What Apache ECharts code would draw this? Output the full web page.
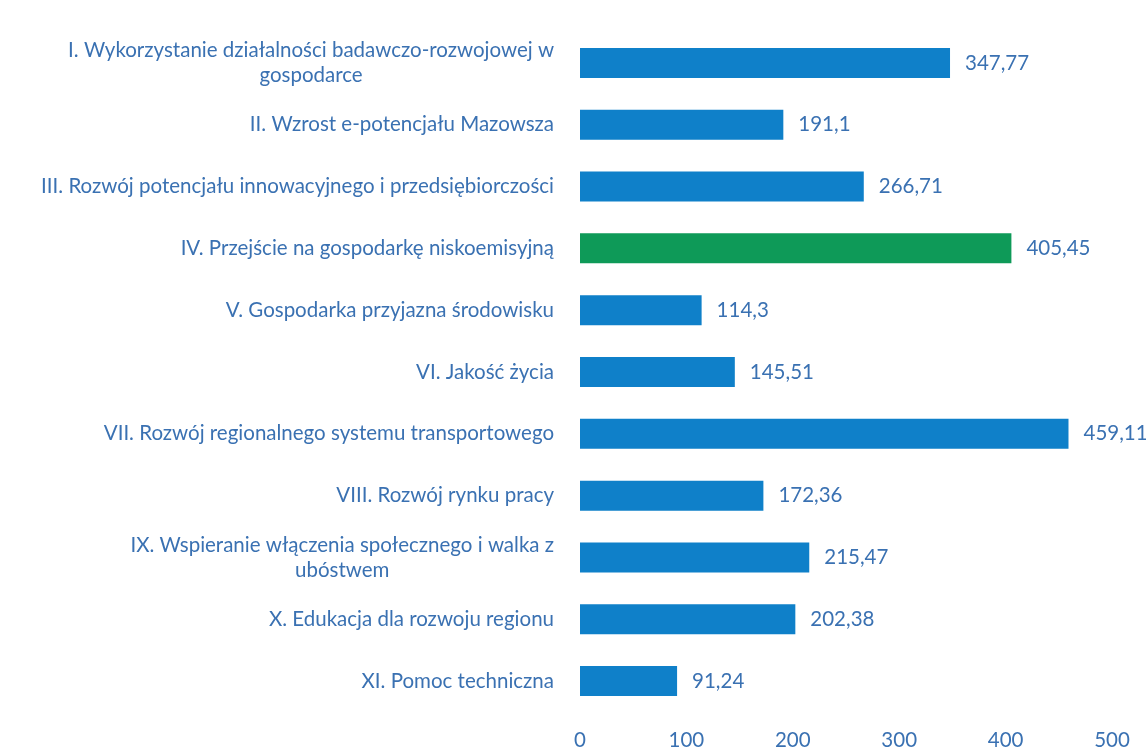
<!DOCTYPE html>
<html>
<head>
<meta charset="utf-8">
<script src="https://cdn.jsdelivr.net/npm/echarts@6/dist/echarts.min.js"></script>
<style>
  html, body { margin: 0; padding: 0; background: #ffffff; }
  #chart_bar { width: 1146px; height: 751px; }
</style>
</head>
<body>
<div id="chart_bar"></div>
<script>
// kategorie (osie priorytetowe)
var categories = [
    'I. Wykorzystanie działalności badawczo-rozwojowej w\ngospodarce',
    'II. Wzrost e-potencjału Mazowsza',
    'III. Rozwój potencjału innowacyjnego i przedsiębiorczości',
    'IV. Przejście na gospodarkę niskoemisyjną',
    'V. Gospodarka przyjazna środowisku',
    'VI. Jakość życia',
    'VII. Rozwój regionalnego systemu transportowego',
    'VIII. Rozwój rynku pracy',
    'IX. Wspieranie włączenia społecznego i walka z\nubóstwem',
    'X. Edukacja dla rozwoju regionu',
    'XI. Pomoc techniczna'
];

// wartości
var values = [347.77, 191.1, 266.71, 405.45, 114.3, 145.51, 459.11, 172.36, 215.47, 202.38, 91.24];

// wyróżniona oś
var highlight = [3];

var textColor = '#3a71b2';
var font = 'Lato';
var fs = 20.5;

var chart = echarts.init(document.getElementById('chart_bar'));

var option = {
    backgroundColor: '#ffffff',
    grid: {
        left: 580,
        right: 34,
        top: 32,
        bottom: 38
    },
    xAxis: {
        type: 'value',
        min: 0,
        max: 500,
        interval: 100,
        axisLine: { show: false },
        axisTick: { show: false },
        splitLine: { show: false },
        axisLabel: {
            color: textColor,
            fontFamily: font,
            fontSize: fs,
            margin: 18
        }
    },
    yAxis: {
        type: 'category',
        inverse: true,
        data: categories,
        axisLine: { show: false },
        axisTick: { show: false },
        axisLabel: {
            margin: 26,
            formatter: function (v) {
                return v.split('\n').map(function (line) {
                    return '{c|' + line + '}';
                }).join('\n');
            },
            rich: {
                c: {
                    align: 'center',
                    color: textColor,
                    fontFamily: font,
                    fontSize: fs,
                    lineHeight: 25
                }
            }
        }
    },
    series: [{
        type: 'bar',
        barWidth: 30,
        data: values.map(function (v, i) {
            return {
                value: v,
                itemStyle: { color: highlight.indexOf(i) >= 0 ? '#0e9a58' : '#0f80c9' }
            };
        }),
        label: {
            show: true,
            position: 'right',
            distance: 15,
            color: textColor,
            fontFamily: font,
            fontSize: fs,
            formatter: function (p) {
                return String(p.value).replace('.', ',');
            }
        }
    }]
};

chart.setOption(option);
</script>
</body>
</html>
